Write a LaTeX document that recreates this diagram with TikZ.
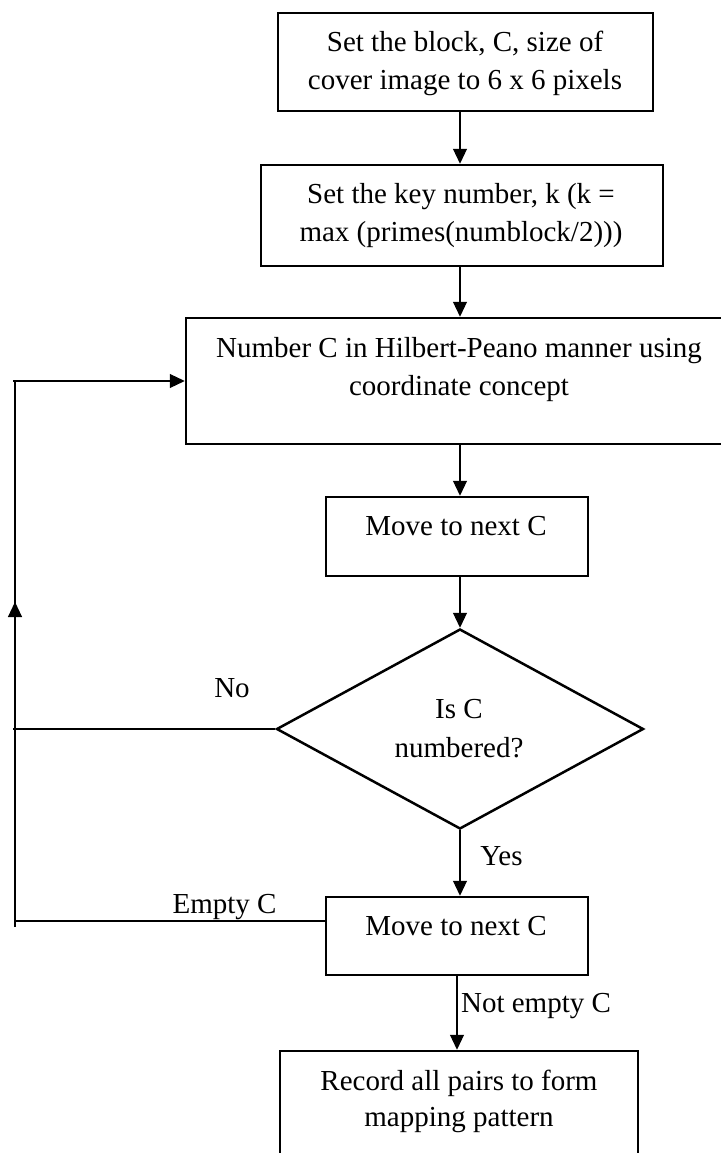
\documentclass[tikz,border=0pt]{standalone}
\usepackage{fontspec}
\setmainfont{Liberation Serif}
\usetikzlibrary{arrows.meta,shapes.geometric}
\begin{document}
\begin{tikzpicture}[x=1pt,y=-1pt,
  box/.style={draw, line width=2.5pt, inner sep=0pt},
  conn/.style={line width=1.1pt},
  arr/.style={conn, -{Triangle[length=15pt,width=14pt]}},
  txt/.style={font=\fontsize{29}{35}\selectfont, inner sep=0pt, anchor=base},
]
\useasboundingbox (0,0) rectangle (720,1153);
\fill[white] (0,0) rectangle (720,1153);

% boxes
\node[box, minimum width=375pt, minimum height=98pt] (b1) at (465.5,62) {};
\node[box, minimum width=402pt, minimum height=101pt] (b2) at (462,215.5) {};
\node[box, minimum width=548pt, minimum height=126pt] (b3) at (460,381) {};
\node[box, minimum width=262pt, minimum height=79pt] (b4) at (457,536.5) {};
\node[box, diamond, minimum width=367pt, minimum height=200pt] (d) at (460,729) {};
\node[box, minimum width=262pt, minimum height=78pt] (b5) at (457,936) {};
\node[box, minimum width=358pt, minimum height=130pt] (b6) at (459,1116) {};

% texts
\node[txt] (t1a) at (465,52) {Set the block, C, size of};
\node[txt] (t1b) at (465,90) {cover image to 6 x 6 pixels};
\node[txt] (t2a) at (461,203) {Set the key number, k (k =};
\node[txt] (t2b) at (461,241) {max (primes(numblock/2)))};
\node[txt] (t3a) at (459,357) {Number C in Hilbert-Peano manner using};
\node[txt] (t3b) at (459,395) {coordinate concept};
\node[txt] (t4) at (456,535) {Move to next C};
\node[txt] (tda) at (459,718) {Is C};
\node[txt] (tdb) at (459,757) {numbered?};
\node[txt] (t5) at (456,935) {Move to next C};
\node[txt] (t6a) at (459,1090) {Record all pairs to form};
\node[txt] (t6b) at (459,1126) {mapping pattern};

% labels
\node[txt] (lno) at (232,697) {No};
\node[txt] (lyes) at (501.5,865) {Yes};
\node[txt] (lempty) at (224.5,913) {Empty C};
\node[txt] (lnotempty) at (536,1012) {Not empty C};

% main flow
\coordinate (ax) at (460,0);
\draw[arr] (b1.south -| ax) -- (b2.north -| ax);
\draw[arr] (b2.south -| ax) -- (b3.north -| ax);
\draw[arr] (b3.south -| ax) -- (b4.north -| ax);
\draw[arr] (b4.south -| d.north) -- (d.north);
\draw[arr] (d.south) -- (b5.north -| d.south);
\draw[arr] (b5.south) -- (b6.north -| b5.south);

% loop back
\coordinate (lx) at (15,0);
\coordinate (lxx) at (13,0);
\coordinate (lb) at (15,927);
\coordinate (lm) at (15,602);
\draw[conn] ([yshift=15pt]b5.west) -- ([yshift=15pt]b5.west -| lx);
\draw[conn] (d.west) -- (d.west -| lxx);
\draw[conn] (lb) -- (b3.west -| lx);
\draw[arr] (b3.west -| lxx) -- (b3.west);
\draw[arr] (d.west -| lx) -- (lm);
\end{tikzpicture}
\end{document}
